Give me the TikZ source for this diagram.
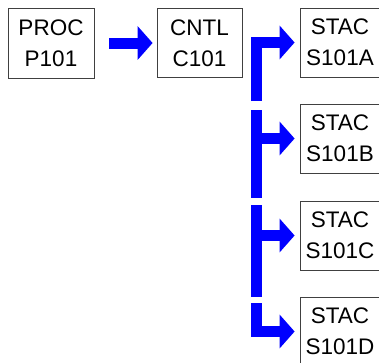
\documentclass[tikz,border=0pt]{standalone}
\usepackage{fontspec}
\setmainfont{Liberation Sans}
\usetikzlibrary{arrows.meta}
\begin{document}
\begin{tikzpicture}[x=1pt,y=-1pt,
    block/.style={draw=black!75,line width=.8pt,align=center,inner sep=0pt,
        font=\fontsize{22.5}{31}\selectfont},
    stac/.style={block,minimum width=80pt,minimum height=69pt},
    flow/.style={blue,line width=11pt},
    flowtip/.style={flow,-{Triangle[length=15pt,width=33pt]}},
    ]
\useasboundingbox (0,0) rectangle (379,362);

%-------------------------------------------- Process and control
\node[block,minimum width=86pt,minimum height=70pt] (proc) at (51,43) {PROC\\P101};
\node[block,minimum width=85pt,minimum height=69pt] (cntl) at (199.5,43) {CNTL\\C101};

\draw[flowtip,shorten <=15pt,shorten >=4pt] (proc.east)--(cntl.west);  % Main arrow

%-------------------------------------------- Stations
\node[stac] (stacA) at (340,42.5) {STAC\\S101A};
\node[stac] (stacB) at (340,138.5) {STAC\\S101B};
\node[stac] (stacC) at (340,235.5) {STAC\\S101C};
\node[stac] (stacD) at (340,331.5) {STAC\\S101D};

%-------------------------------------------- Bus
\coordinate (busA) at (256.5,101);
\draw[flowtip,shorten >=5pt] (busA) |- (stacA.west);     % First elbow

\coordinate (busB) at (256.5,110);
\coordinate (busBend) at (256.5,198);
\draw[flow] (busB)--(busBend);
\draw[flowtip,shorten >=5pt] (busB |- stacB.west)--(stacB.west);

\coordinate (busC) at (256.5,205);
\coordinate (busCend) at (256.5,297);
\draw[flow] (busC)--(busCend);
\draw[flowtip,shorten >=5pt] (busC |- stacC.west)--(stacC.west);

\coordinate (busD) at (256.5,303);
\draw[flowtip,shorten >=5pt] (busD) |- (stacD.west);     % Last elbow

\end{tikzpicture}
\end{document}
